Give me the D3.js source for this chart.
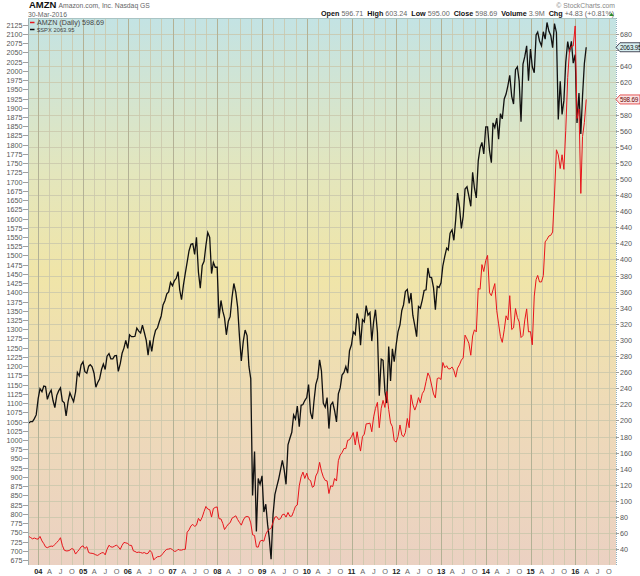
<!DOCTYPE html>
<html>
<head>
<meta charset="utf-8">
<script src="https://cdn.jsdelivr.net/npm/d3@7"></script>
<style>
body { margin: 0; background: #fff; }
text { font-family: Arial, "Liberation Sans", sans-serif; }
</style>
</head>
<body>
<script>
// Months on the chart (each month has a mid-month and a month-end reading)
var months = [
 "2003-10","2003-11","2003-12",
 "2004-01","2004-02","2004-03","2004-04","2004-05","2004-06","2004-07","2004-08","2004-09","2004-10","2004-11","2004-12",
 "2005-01","2005-02","2005-03","2005-04","2005-05","2005-06","2005-07","2005-08","2005-09","2005-10","2005-11","2005-12",
 "2006-01","2006-02","2006-03","2006-04","2006-05","2006-06","2006-07","2006-08","2006-09","2006-10","2006-11","2006-12",
 "2007-01","2007-02","2007-03","2007-04","2007-05","2007-06","2007-07","2007-08","2007-09","2007-10","2007-11","2007-12",
 "2008-01","2008-02","2008-03","2008-04","2008-05","2008-06","2008-07","2008-08","2008-09","2008-10","2008-11","2008-12",
 "2009-01","2009-02","2009-03","2009-04","2009-05","2009-06","2009-07","2009-08","2009-09","2009-10","2009-11","2009-12",
 "2010-01","2010-02","2010-03","2010-04","2010-05","2010-06","2010-07","2010-08","2010-09","2010-10","2010-11","2010-12",
 "2011-01","2011-02","2011-03","2011-04","2011-05","2011-06","2011-07","2011-08","2011-09","2011-10","2011-11","2011-12",
 "2012-01","2012-02","2012-03","2012-04","2012-05","2012-06","2012-07","2012-08","2012-09","2012-10","2012-11","2012-12",
 "2013-01","2013-02","2013-03","2013-04","2013-05","2013-06","2013-07","2013-08","2013-09","2013-10","2013-11","2013-12",
 "2014-01","2014-02","2014-03","2014-04","2014-05","2014-06","2014-07","2014-08","2014-09","2014-10","2014-11","2014-12",
 "2015-01","2015-02","2015-03","2015-04","2015-05","2015-06","2015-07","2015-08","2015-09","2015-10","2015-11","2015-12",
 "2016-01","2016-02","2016-03"
];

// $SPX (left scale)
var spxMid = [
 1046,1050,1068,
 1139,1146,1110,1135,1088,1133,1106,1065,1128,1104,1183,1203,
 1185,1200,1198,1143,1165,1206,1227,1220,1228,1186,1235,1270,
 1285,1280,1303,1290,1292,1230,1240,1297,1321,1366,1396,1427,
 1431,1456,1380,1452,1512,1532,1549,1411,1484,1562,1451,1468,
 1330,1349,1285,1334,1424,1360,1214,1298,1200,850,752,880,
 805,770,677,852,893,945,880,1004,1068,1092,1094,1107,
 1150,1057,1150,1217,1100,1115,1095,1080,1125,1176,1199,1242,
 1293,1343,1257,1320,1338,1268,1353,1120,1216,1100,1160,1212,
 1293,1351,1402,1370,1338,1280,1357,1405,1466,1440,1353,1413,
 1472,1520,1560,1541,1669,1573,1680,1661,1725,1656,1791,1775,
 1848,1751,1846,1815,1870,1937,1988,1910,2011,1862,2039,1973,
 2011,2097,2081,2106,2131,2096,2128,1868,1882,2023,2051,2021,
 1859,1829,2020
];
var spxEnd = [
 1050,1058,1112,
 1131,1145,1126,1107,1121,1141,1101,1104,1115,1130,1174,1212,
 1181,1204,1181,1156,1191,1191,1234,1220,1229,1207,1249,1248,
 1280,1281,1295,1311,1270,1270,1277,1304,1336,1378,1401,1418,
 1438,1407,1421,1482,1530,1503,1455,1473,1527,1549,1481,1468,
 1378,1331,1322,1386,1400,1280,1267,1283,1166,969,896,903,
 826,735,798,873,919,919,987,1021,1057,1036,1096,1115,
 1074,1105,1169,1187,1089,1031,1102,1049,1141,1183,1181,1258,
 1286,1327,1326,1364,1345,1321,1292,1219,1131,1253,1247,1258,
 1312,1366,1408,1398,1310,1362,1379,1407,1441,1412,1416,1426,
 1498,1515,1569,1598,1631,1606,1686,1633,1682,1757,1806,1848,
 1783,1859,1872,1884,1924,1960,1931,2003,1972,2018,2068,2059,
 1995,2105,2068,2086,2107,2063,2104,1972,1920,2079,2080,2044,
 1940,1932,2064
];

// AMZN (right scale)
var amznMid = [
 56,53,53,
 56,47,42,44,46,51,45,38,39,40,37,43,
 41,36,35,33,34,36,40,43,44,43,45,48,
 45,38,36,36,36,35,36,29,31,35,40,41,
 37.5,40,39,40,64,71,70,75,87,90,80,92,
 78,72,68,73,80,77,70,80,80,58,43,50,
 50,63,66,80,77,83,80,81,87,95,130,128,
 127,117,131,148,130,125,119,128,150,160,165,176,
 185,186,162,183,196,186,215,191,225,236,197,175,
 180,182,185,191,220,219,222,237,259,244,228,253,
 272,268,264,262,265,275,306,296,305,310,363,385,
 405,355,370,320,297,330,355,315,328,303,325,310,
 294,375,372,380,425,430,480,530,530,560,660,665,
 575,482,570
];
var amznEnd = [
 54.5,54,52.6,
 50.4,43.0,43.3,43.6,48.5,54.4,38.9,38.1,40.9,34.1,39.7,44.3,
 43.2,35.2,34.3,32.4,35.5,33.1,45.0,42.7,45.3,39.9,48.5,47.2,
 44.8,37.4,36.5,35.2,34.6,38.7,26.9,30.8,32.1,38.1,40.3,39.5,
 37.7,39.1,39.8,61.3,69.1,68.4,78.5,79.9,93.2,89.2,90.6,92.6,
 77.7,64.5,71.3,78.6,81.6,73.3,76.3,80.8,72.8,57.2,42.7,51.3,
 58.8,64.8,73.4,80.5,78.0,83.7,85.8,81.2,93.4,118.8,135.9,134.5,
 125.4,118.4,135.8,137.1,125.5,109.3,117.9,124.8,157.1,165.2,175.4,180.0,
 169.6,173.3,180.1,195.8,196.7,204.5,222.5,215.2,216.2,213.5,192.3,173.1,
 194.4,179.7,202.5,231.9,212.9,228.4,233.3,248.3,254.3,232.9,252.1,250.9,
 265.5,264.3,266.5,253.8,269.2,277.7,301.2,281.0,312.6,364.0,393.6,398.8,
 358.7,362.1,336.4,304.1,312.6,324.8,313.0,339.0,322.4,305.5,338.6,310.4,
 354.5,380.2,372.1,421.8,429.2,434.1,536.2,512.9,511.9,625.9,664.8,690,
 587.0,552.5,598.69
];

var leftTicks = d3.range(675, 2126, 25);
var rightTicks = d3.range(40, 681, 20);
var monthLetters = {3: "A", 6: "J", 9: "O"};

var headerFields = [
  ["Open", "596.71"], ["High", "603.24"], ["Low", "595.00"],
  ["Close", "598.69"], ["Volume", "3.9M"], ["Chg", "+4.83 (+0.81%)"]
];

var lastSpx = 2063.95, lastAmzn = 598.69;

var W = 640, H = 576;
var plot = {left: 28, right: 616, top: 18, bottom: 565};

var svg = d3.select("body").append("svg")
  .attr("width", W).attr("height", H);

var x = d3.scaleTime()
  .domain([new Date(2004, 0, 1), new Date(2016, 0, 1)])
  .range([38.3, 575.3]);
var yL = d3.scaleLinear().domain([675, 2125]).range([560, 24.7]);
var yR = d3.scaleLinear().domain([40, 680]).range([549.3, 34]);

// build the points: mid month then month end
var spxPts = [], amznPts = [];
months.forEach(function(m, i) {
  var p = m.split("-"), yr = +p[0], mo = +p[1] - 1;
  var dMid = new Date(yr, mo, 15);
  var dEnd = (m === "2016-03") ? new Date(2016, 2, 30) : new Date(yr, mo + 1, 0);
  spxPts.push([dMid, spxMid[i]], [dEnd, spxEnd[i]]);
  amznPts.push([dMid, amznMid[i]], [dEnd, amznEnd[i]]);
});

// background gradient
var defs = svg.append("defs");
var grad = defs.append("linearGradient").attr("id", "bg")
  .attr("x1", 0).attr("y1", 0).attr("x2", 0).attr("y2", 1);
[[0, "#c3e3e4"], [0.28, "#e3e6bd"], [0.47, "#f0e5a8"], [0.72, "#eedab8"], [1, "#ebd1c2"]]
  .forEach(function(s) { grad.append("stop").attr("offset", s[0]).attr("stop-color", s[1]); });
defs.append("clipPath").attr("id", "clip").append("rect")
  .attr("x", plot.left).attr("y", plot.top)
  .attr("width", plot.right - plot.left).attr("height", plot.bottom - plot.top);

svg.append("rect")
  .attr("x", plot.left).attr("y", plot.top)
  .attr("width", plot.right - plot.left).attr("height", plot.bottom - plot.top)
  .attr("fill", "url(#bg)");

var g = svg.append("g").attr("clip-path", "url(#clip)");

// grid: horizontal at right-scale ticks, vertical every quarter
g.selectAll(".hg").data(d3.range(20, 701, 20)).enter().append("line")
  .attr("x1", plot.left).attr("x2", plot.right)
  .attr("y1", function(d) { return Math.round(yR(d)) + 0.5; })
  .attr("y2", function(d) { return Math.round(yR(d)) + 0.5; })
  .attr("stroke", "#c9c6ab").attr("stroke-width", 0.8);

var quarters = d3.timeMonth.every(3).range(new Date(2004, 0, 1), new Date(2016, 11, 1));
g.selectAll(".vg").data(quarters).enter().append("line")
  .attr("x1", function(d) { return Math.round(x(d)) + 0.5; })
  .attr("x2", function(d) { return Math.round(x(d)) + 0.5; })
  .attr("y1", plot.top).attr("y2", plot.bottom)
  .attr("stroke", function(d) { return d.getMonth() === 0 ? "#b3b195" : "#cac7ab"; })
  .attr("stroke-width", function(d) { return d.getMonth() === 0 ? 1 : 0.8; });

// price lines
var lineL = d3.line().x(function(d) { return x(d[0]); }).y(function(d) { return yL(d[1]); });
var lineR = d3.line().x(function(d) { return x(d[0]); }).y(function(d) { return yR(d[1]); });

g.append("path").datum(spxPts).attr("d", lineL)
  .attr("fill", "none").attr("stroke", "#111").attr("stroke-width", 1.3);
g.append("path").datum(amznPts).attr("d", lineR)
  .attr("fill", "none").attr("stroke", "#e8141b").attr("stroke-width", 1);

// plot frame
svg.append("line").attr("x1", plot.left + 0.5).attr("x2", plot.left + 0.5)
  .attr("y1", plot.top).attr("y2", plot.bottom).attr("stroke", "#9fb0b0");
svg.append("line").attr("x1", plot.right + 0.5).attr("x2", plot.right + 0.5)
  .attr("y1", plot.top).attr("y2", plot.bottom)
  .attr("stroke", "#8fb0c0").attr("stroke-dasharray", "1,1");
svg.append("line").attr("x1", plot.left).attr("x2", plot.right)
  .attr("y1", plot.top + 0.5).attr("y2", plot.top + 0.5).attr("stroke", "#a9c4c4");

// left axis (SPX)
var la = svg.append("g");
leftTicks.forEach(function(v) {
  var yy = Math.round(yL(v)) + 0.5;
  la.append("line").attr("x1", 23).attr("x2", plot.left).attr("y1", yy).attr("y2", yy)
    .attr("stroke", "#888").attr("stroke-width", 0.8);
  la.append("text").attr("x", 22.5).attr("y", yy + 2.6)
    .attr("text-anchor", "end").attr("font-size", 7.2).attr("fill", "#555")
    .text(v);
});

// right axis (AMZN); labels under the last-value tags are hidden, as in the original
var tagYs = [yL(lastSpx), yR(lastAmzn)];
var ra = svg.append("g");
rightTicks.forEach(function(v) {
  var yy = Math.round(yR(v)) + 0.5;
  ra.append("line").attr("x1", plot.right).attr("x2", plot.right + 3).attr("y1", yy).attr("y2", yy)
    .attr("stroke", "#888").attr("stroke-width", 0.8);
  var covered = tagYs.some(function(t) { return Math.abs(t - yy) < 7; });
  if (!covered) {
    ra.append("text").attr("x", 620).attr("y", yy + 2.6)
      .attr("font-size", 7.2).attr("fill", "#555").text(v);
  }
});

// last-value tags on the right axis
function tag(yy, txt, fill, stroke, color) {
  var p = "M" + plot.right + "," + yy + " L" + (plot.right + 4) + "," + (yy - 4.5) +
          " L640," + (yy - 4.5) + " L640," + (yy + 4.5) + " L" + (plot.right + 4) + "," + (yy + 4.5) + " Z";
  svg.append("path").attr("d", p).attr("fill", fill).attr("stroke", stroke).attr("stroke-width", 0.8);
  svg.append("text").attr("x", 620).attr("y", yy + 2.4).attr("font-size", 6.3)
    .attr("letter-spacing", -0.2).attr("fill", color).text(txt);
}
tag(yL(lastSpx), "2063.95", "#d6eef0", "#223", "#111");
tag(yR(lastAmzn), "598.69", "#fbe3e3", "#e03030", "#600");

// bottom axis: year labels bold, A/J/O letters grey
var xa = svg.append("g");
quarters.forEach(function(d) {
  var m = d.getMonth();
  var isYear = m === 0;
  xa.append("text").attr("x", x(d)).attr("y", 573.5)
    .attr("text-anchor", "middle").attr("font-size", 7.4)
    .attr("font-weight", isYear ? "bold" : "normal")
    .attr("fill", isYear ? "#222" : "#666")
    .text(isYear ? d3.timeFormat("%y")(d) : monthLetters[m]);
});

// header
var h = svg.append("text").attr("x", 29).attr("y", 8);
h.append("tspan").attr("font-size", 9.5).attr("font-weight", "bold").attr("fill", "#111").text("AMZN");
h.append("tspan").attr("font-size", 6.8).attr("fill", "#666").attr("dx", 2).text("Amazon.com, Inc.  Nasdaq GS");
svg.append("text").attr("x", 28).attr("y", 16.5).attr("font-size", 6.8).attr("fill", "#666").text("30-Mar-2016");
svg.append("text").attr("x", 615).attr("y", 7.5).attr("text-anchor", "end")
  .attr("font-size", 6.8).attr("fill", "#888").text("\u00a9 StockCharts.com");

var hr = svg.append("text").attr("x", 321).attr("y", 16.3).attr("font-size", 7.2);
headerFields.forEach(function(f, i) {
  hr.append("tspan").attr("font-weight", "bold").attr("fill", "#111")
    .attr("dx", i === 0 ? 0 : 4).text(f[0]);
  hr.append("tspan").attr("fill", "#666").attr("dx", 2).text(f[1]);
});
svg.append("path").attr("d", "M609,16 L611.5,13 L614,16 Z").attr("fill", "#2a8a2a");

// legend
var lg = svg.append("g");
lg.append("line").attr("x1", 30).attr("x2", 34.5).attr("y1", 22.5).attr("y2", 22.5)
  .attr("stroke", "#e8141b").attr("stroke-width", 1.5);
lg.append("text").attr("x", 37).attr("y", 25).attr("font-size", 7.2).attr("fill", "#444")
  .attr("font-family", "'DejaVu Sans', sans-serif").text("AMZN (Daily) " + lastAmzn);
lg.append("line").attr("x1", 30).attr("x2", 34.5).attr("y1", 29.5).attr("y2", 29.5)
  .attr("stroke", "#111").attr("stroke-width", 1.5);
lg.append("text").attr("x", 37).attr("y", 31.5).attr("font-size", 5.8).attr("fill", "#444")
  .text("$SPX " + lastSpx);
</script>
</body>
</html>
